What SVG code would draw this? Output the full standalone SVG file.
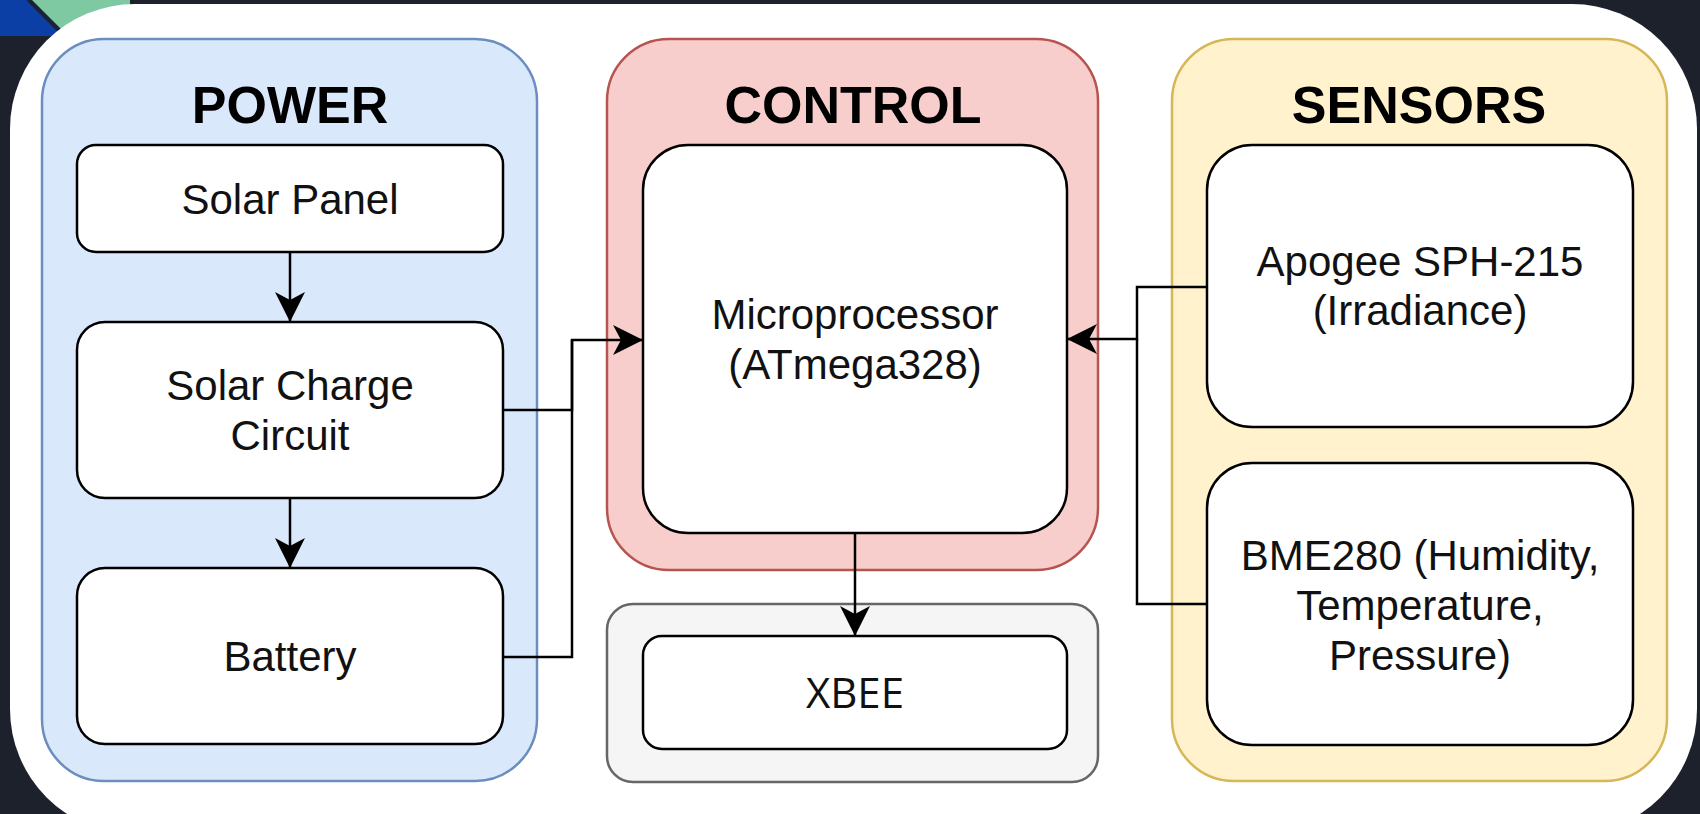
<svg xmlns="http://www.w3.org/2000/svg" width="1700" height="814" viewBox="0 0 1700 814">
  <style>
    .node { fill: #ffffff; stroke: #000000; stroke-width: 2.5; }
    .hdr { font-family: "Liberation Sans", Arial, sans-serif; font-weight: bold; font-size: 52px; fill: #000000; text-anchor: middle; }
    .lbl { font-family: "Liberation Sans", Arial, sans-serif; font-size: 42px; fill: #111111; text-anchor: middle; }
    .lbl2 { font-family: "Open Sans", "Liberation Sans", sans-serif; font-size: 42px; fill: #111111; text-anchor: middle; }
    .edge { fill: none; stroke: #000000; stroke-width: 2.5; }
  </style>
  <defs>
    <marker id="arrow" markerUnits="userSpaceOnUse" viewBox="0 0 30 30" refX="30" refY="15" markerWidth="30" markerHeight="30" orient="auto">
      <path d="M0,0 L30,15 L0,30 L8,15 Z" fill="#000000"/>
    </marker>
  </defs>

  <!-- background decoration -->
  <rect x="0" y="0" width="1700" height="814" fill="#1d212c"/>
  <polygon points="0,0 30,0 66,36 0,36" fill="#0b3fa6"/>
  <polygon points="32,0 130,0 130,98" fill="#7fc9a2"/>
  <line x1="28" y1="0" x2="68" y2="40" stroke="#1d212c" stroke-width="3"/>
  <rect x="10" y="4" width="1687" height="830" rx="125" ry="125" fill="#ffffff"/>

  <!-- containers -->
  <g id="power">
    <rect x="42" y="39" width="495" height="742" rx="62" fill="#dae8fc" stroke="#6c8ebf" stroke-width="2.5"/>
    <text class="hdr" x="290" y="123">POWER</text>
  </g>
  <g id="control">
    <rect x="607" y="39" width="491" height="531" rx="62" fill="#f8cecc" stroke="#b85450" stroke-width="2.5"/>
    <text class="hdr" x="853" y="123">CONTROL</text>
  </g>
  <g id="comms">
    <rect x="607" y="604" width="491" height="178" rx="26" fill="#f5f5f5" stroke="#666666" stroke-width="2.5"/>
  </g>
  <g id="sensors">
    <rect x="1172" y="39" width="495" height="742" rx="62" fill="#fff2cc" stroke="#d6b656" stroke-width="2.5"/>
    <text class="hdr" x="1419" y="123">SENSORS</text>
  </g>

  <!-- connectors -->
  <g id="connectors">
    <path class="edge" d="M290,252 L290,322" marker-end="url(#arrow)"/>
    <path class="edge" d="M290,498 L290,568" marker-end="url(#arrow)"/>
    <path class="edge" d="M503,410 L572,410 L572,340 L643,340" marker-end="url(#arrow)"/>
    <path class="edge" d="M503,657 L572,657 L572,340"/>
    <path class="edge" d="M1207,287 L1137,287 L1137,339 L1067,339" marker-end="url(#arrow)"/>
    <path class="edge" d="M1207,604 L1137,604 L1137,339"/>
    <path class="edge" d="M855,533 L855,636" marker-end="url(#arrow)"/>
  </g>

  <!-- nodes -->
  <g id="solar-panel">
    <rect class="node" x="77" y="145" width="426" height="107" rx="19"/>
    <text class="lbl" x="290" y="214">Solar Panel</text>
  </g>
  <g id="solar-charge">
    <rect class="node" x="77" y="322" width="426" height="176" rx="28"/>
    <text class="lbl" x="290" y="400">Solar Charge</text>
    <text class="lbl" x="290" y="450">Circuit</text>
  </g>
  <g id="battery">
    <rect class="node" x="77" y="568" width="426" height="176" rx="28"/>
    <text class="lbl" x="290" y="671">Battery</text>
  </g>
  <g id="microprocessor">
    <rect class="node" x="643" y="145" width="424" height="388" rx="45"/>
    <text class="lbl" x="855" y="329">Microprocessor</text>
    <text class="lbl" x="855" y="379">(ATmega328)</text>
  </g>
  <g id="xbee">
    <rect class="node" x="643" y="636" width="424" height="113" rx="19"/>
    <text class="lbl2" x="855" y="708">XBEE</text>
  </g>
  <g id="apogee">
    <rect class="node" x="1207" y="145" width="426" height="282" rx="45"/>
    <text class="lbl" x="1420" y="276">Apogee SPH-215</text>
    <text class="lbl" x="1420" y="325">(Irradiance)</text>
  </g>
  <g id="bme280">
    <rect class="node" x="1207" y="463" width="426" height="282" rx="45"/>
    <text class="lbl" x="1420" y="570">BME280 (Humidity,</text>
    <text class="lbl" x="1420" y="620">Temperature,</text>
    <text class="lbl" x="1420" y="670">Pressure)</text>
  </g>
</svg>
